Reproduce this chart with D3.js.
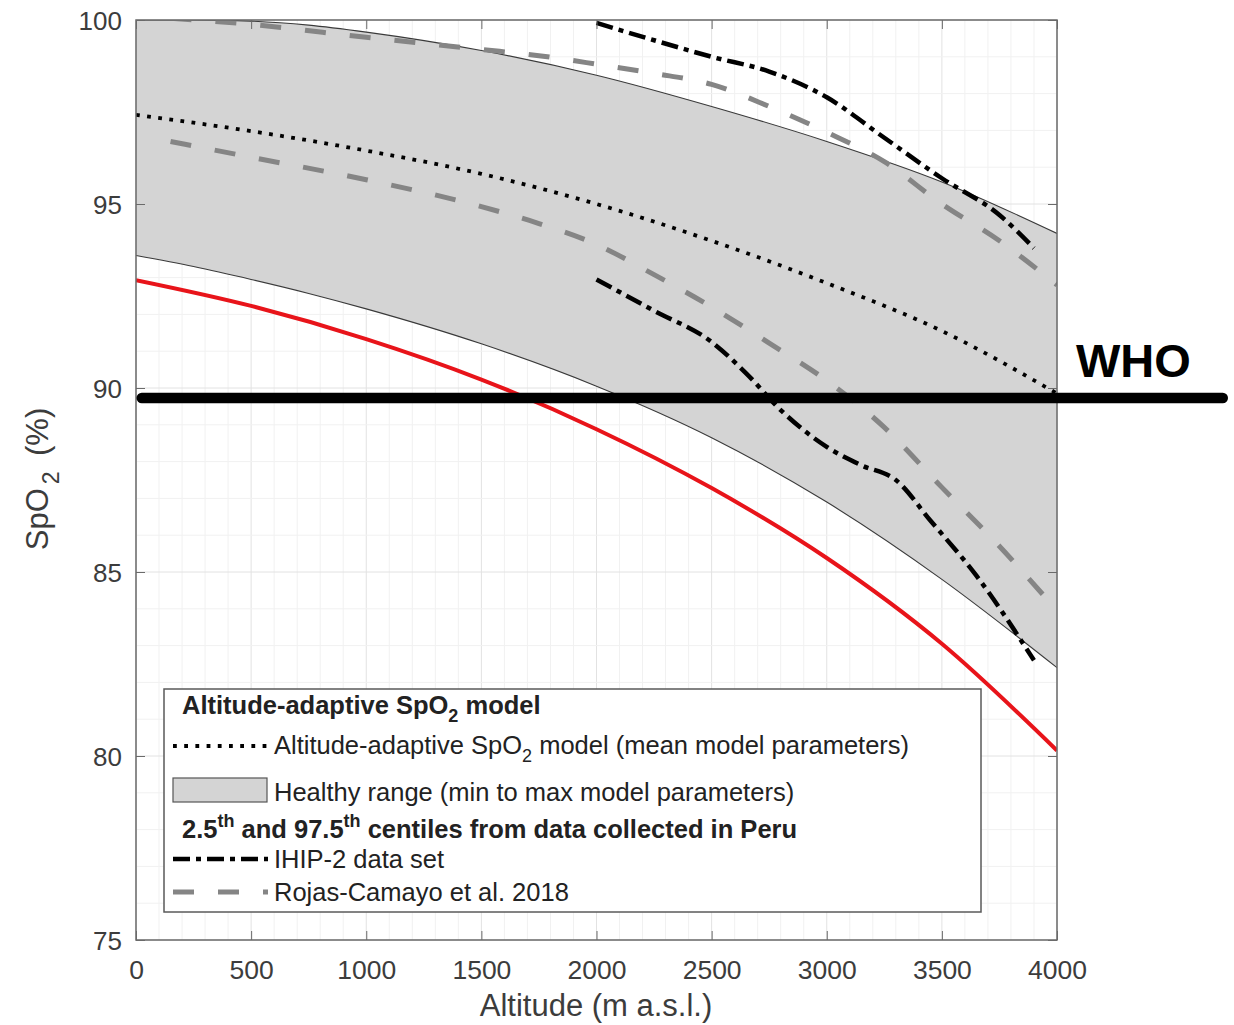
<!DOCTYPE html>
<html><head><meta charset="utf-8">
<script src="https://cdn.jsdelivr.net/npm/d3@7"></script>
<style>body{margin:0;background:#fff}svg{display:block}text{font-family:"Liberation Sans",Arial,sans-serif}</style>
</head><body>
<svg id="c" width="1234" height="1025"></svg>
<script>
// ---- data ----
const rangeAlt   = [0, 250, 500, 750, 1000, 1500, 2000, 2500, 3000, 3500, 4000];
const rangeUpper = [100, 100, 99.97, 99.86, 99.67, 99.17, 98.5, 97.65, 96.7, 95.6, 94.2];
const rangeLower = [93.6, 93.3, 92.95, 92.57, 92.15, 91.2, 90.05, 88.65, 86.9, 84.8, 82.4];
const meanAlt    = [0, 500, 1000, 1500, 2000, 2500, 3000, 3500, 4000];
const meanModel  = [97.42, 96.98, 96.45, 95.82, 95.0, 94.0, 92.85, 91.55, 89.85];
const redAlt     = [0, 500, 1000, 1500, 2000, 2500, 3000, 3500, 4000];
const redLine    = [92.93, 92.23, 91.33, 90.23, 88.88, 87.28, 85.38, 83.05, 80.15];

const ihipAlt    = [2000, 2250, 2500, 2750, 3000, 3250, 3500, 3750, 3900];
const ihipUpper  = [99.92, 99.45, 99.0, 98.6, 97.9, 96.8, 95.7, 94.7, 93.8];
const ihipLowAlt = [2000, 2250, 2500, 2650, 2800, 3000, 3150, 3300, 3450, 3650, 3900];
const ihipLower  = [92.95, 92.1, 91.25, 90.4, 89.4, 88.4, 87.9, 87.5, 86.4, 84.9, 82.6];

const rojasAlt   = [150, 500, 1000, 1500, 1750, 2000, 2250, 2500, 2750, 3000, 3250, 3500, 3750, 4000];
const rojasUpper = [100.05, 99.88, 99.53, 99.2, 99.03, 98.8, 98.55, 98.25, 97.65, 96.95, 96.15, 95.0, 94.0, 92.8];
const rojasLower = [96.7, 96.27, 95.66, 94.93, 94.47, 93.9, 93.08, 92.2, 91.22, 90.2, 88.93, 87.3, 85.7, 83.95];

const whoLevel = 89.73;
const whoAlt = [25, 4720];

const xTicks = [0, 500, 1000, 1500, 2000, 2500, 3000, 3500, 4000];
const yTicks = [75, 80, 85, 90, 95, 100];

// ---- layout ----
const svg = d3.select("#c");
const L = 136, R = 1057, T = 20, B = 940;
const x = d3.scaleLinear().domain([0, 4000]).range([L, R]);
const y = d3.scaleLinear().domain([75, 100]).range([B, T]);

svg.append("defs").append("clipPath").attr("id", "clip")
  .append("rect").attr("x", L).attr("y", T).attr("width", R - L).attr("height", B - T);

// grid
const g = svg.append("g");
d3.range(0, 4001, 100).forEach(v => {
  g.append("line").attr("x1", x(v)).attr("x2", x(v)).attr("y1", T).attr("y2", B)
   .attr("stroke", v % 500 === 0 ? "#e2e2e2" : "#f1f1f1").attr("stroke-width", 1);
});
d3.range(75, 100.01, 1).forEach(v => {
  g.append("line").attr("x1", L).attr("x2", R).attr("y1", y(v)).attr("y2", y(v))
   .attr("stroke", v % 5 === 0 ? "#e2e2e2" : "#f1f1f1").attr("stroke-width", 1);
});

const plot = svg.append("g").attr("clip-path", "url(#clip)");
const curve = d3.curveMonotoneX;

// healthy range
const rangeData = rangeAlt.map((a, i) => ({a, lo: rangeLower[i], hi: rangeUpper[i]}));
plot.append("path").datum(rangeData)
  .attr("d", d3.area().x(d => x(d.a)).y0(d => y(d.lo)).y1(d => y(d.hi)).curve(curve))
  .attr("fill", "#d4d4d4");
const mkLine = (alts, vals) => d3.line().curve(curve)(alts.map((a, i) => [x(a), y(vals[i])]));
plot.append("path").attr("d", mkLine(rangeAlt, rangeUpper)).attr("fill", "none").attr("stroke", "#3a3a3a").attr("stroke-width", 1.1);
plot.append("path").attr("d", mkLine(rangeAlt, rangeLower)).attr("fill", "none").attr("stroke", "#3a3a3a").attr("stroke-width", 1.1);

// red line
plot.append("path").attr("d", mkLine(redAlt, redLine)).attr("fill", "none").attr("stroke", "#e8141a").attr("stroke-width", 4);

// Rojas
const rojasStyle = p => p.attr("fill", "none").attr("stroke", "#858585").attr("stroke-width", 5).attr("stroke-dasharray", "21 24");
rojasStyle(plot.append("path").attr("d", mkLine(rojasAlt, rojasUpper)));
rojasStyle(plot.append("path").attr("d", mkLine(rojasAlt, rojasLower)));

// mean model
plot.append("path").attr("d", mkLine(meanAlt, meanModel)).attr("fill", "none")
  .attr("stroke", "#000").attr("stroke-width", 3.8).attr("stroke-dasharray", "3.8 7.4");

// IHIP
const ihipStyle = p => p.attr("fill", "none").attr("stroke", "#000").attr("stroke-width", 4.5).attr("stroke-dasharray", "17 6 5 6");
ihipStyle(plot.append("path").attr("d", mkLine(ihipAlt, ihipUpper)));
ihipStyle(plot.append("path").attr("d", mkLine(ihipLowAlt, ihipLower)));

// axes box
const axCol = "#6a6a6a", lblCol = "#3c3c3c";
svg.append("rect").attr("x", L).attr("y", T).attr("width", R - L).attr("height", B - T)
  .attr("fill", "none").attr("stroke", axCol).attr("stroke-width", 1.5);

const bottomAxis = d3.axisBottom(x).tickValues(xTicks).tickSize(-9).tickFormat(d3.format("d"));
const ax = svg.append("g").attr("transform", `translate(0,${B})`).call(bottomAxis);
ax.select(".domain").remove();
ax.selectAll("line").attr("stroke", axCol);
ax.selectAll("text").attr("font-size", 26.5).attr("fill", lblCol).attr("dy", 0).attr("y", 38.5);

const topAxis = d3.axisTop(x).tickValues(xTicks).tickSize(-9).tickFormat("");
const axt = svg.append("g").attr("transform", `translate(0,${T})`).call(topAxis);
axt.select(".domain").remove(); axt.selectAll("line").attr("stroke", axCol);

const leftAxis = d3.axisLeft(y).tickValues(yTicks).tickSize(-9).tickFormat(d3.format("d"));
const ay = svg.append("g").attr("transform", `translate(${L},0)`).call(leftAxis);
ay.select(".domain").remove(); ay.selectAll("line").attr("stroke", axCol);
ay.selectAll("text").attr("font-size", 26).attr("fill", lblCol).attr("x", -14).attr("dy", "0.35em");

const rightAxis = d3.axisRight(y).tickValues(yTicks).tickSize(-9).tickFormat("");
const ar = svg.append("g").attr("transform", `translate(${R},0)`).call(rightAxis);
ar.select(".domain").remove(); ar.selectAll("line").attr("stroke", axCol);

// axis labels
svg.append("text").attr("x", 596).attr("y", 1016).attr("text-anchor", "middle")
  .attr("font-size", 31).attr("fill", lblCol).text("Altitude (m a.s.l.)");
const yl = svg.append("text").attr("transform", "translate(48,479) rotate(-90)").attr("text-anchor", "middle")
  .attr("font-size", 31).attr("fill", lblCol);
yl.append("tspan").text("SpO");
yl.append("tspan").attr("font-size", 23).attr("dy", 11).attr("dx", 4).text("2");
yl.append("tspan").attr("dy", -11).text("\u2002(%)");

// legend
const lg = svg.append("g");
lg.append("rect").attr("x", 164).attr("y", 689).attr("width", 817).attr("height", 223)
  .attr("fill", "#fff").attr("stroke", "#5a5a5a").attr("stroke-width", 1.5);
const fs = 25.5, sub = 18, txtCol = "#222";
const t1 = lg.append("text").attr("x", 182).attr("y", 714).attr("font-size", fs).attr("font-weight", "bold").attr("fill", txtCol);
t1.append("tspan").text("Altitude-adaptive SpO");
t1.append("tspan").attr("font-size", sub).attr("dy", 8).text("2");
t1.append("tspan").attr("dy", -8).text(" model");

lg.append("line").attr("x1", 173).attr("x2", 268).attr("y1", 746).attr("y2", 746)
  .attr("stroke", "#000").attr("stroke-width", 3.8).attr("stroke-dasharray", "3.8 7.4");
const t2 = lg.append("text").attr("x", 274).attr("y", 754).attr("font-size", fs).attr("fill", txtCol);
t2.append("tspan").text("Altitude-adaptive SpO");
t2.append("tspan").attr("font-size", sub).attr("dy", 8).text("2");
t2.append("tspan").attr("dy", -8).text(" model (mean model parameters)");

lg.append("rect").attr("x", 173).attr("y", 778).attr("width", 94).attr("height", 24)
  .attr("fill", "#d4d4d4").attr("stroke", "#555").attr("stroke-width", 1.2);
lg.append("text").attr("x", 274).attr("y", 801).attr("font-size", fs).attr("fill", txtCol)
  .text("Healthy range (min to max model parameters)");

const t3 = lg.append("text").attr("x", 182).attr("y", 838).attr("font-size", fs).attr("font-weight", "bold").attr("fill", txtCol);
t3.append("tspan").text("2.5");
t3.append("tspan").attr("font-size", sub).attr("dy", -11).text("th");
t3.append("tspan").attr("dy", 11).text(" and 97.5");
t3.append("tspan").attr("font-size", sub).attr("dy", -11).text("th");
t3.append("tspan").attr("dy", 11).text(" centiles from data collected in Peru");

lg.append("line").attr("x1", 173).attr("x2", 268).attr("y1", 859).attr("y2", 859)
  .attr("stroke", "#000").attr("stroke-width", 4.5).attr("stroke-dasharray", "17 6 5 6");
lg.append("text").attr("x", 274).attr("y", 868).attr("font-size", fs).attr("fill", txtCol).text("IHIP-2 data set");

lg.append("line").attr("x1", 173).attr("x2", 268).attr("y1", 892).attr("y2", 892)
  .attr("stroke", "#858585").attr("stroke-width", 5).attr("stroke-dasharray", "21 24");
lg.append("text").attr("x", 274).attr("y", 901).attr("font-size", fs).attr("fill", txtCol).text("Rojas-Camayo et al. 2018");

// WHO annotation
svg.append("line").attr("x1", x(whoAlt[0])).attr("x2", x(whoAlt[1])).attr("y1", y(whoLevel)).attr("y2", y(whoLevel))
  .attr("stroke", "#000").attr("stroke-width", 10.5).attr("stroke-linecap", "round");
svg.append("text").attr("x", 1076).attr("y", 377).attr("font-size", 47).attr("font-weight", "bold")
  .attr("fill", "#000").text("WHO");
</script>
</body></html>
